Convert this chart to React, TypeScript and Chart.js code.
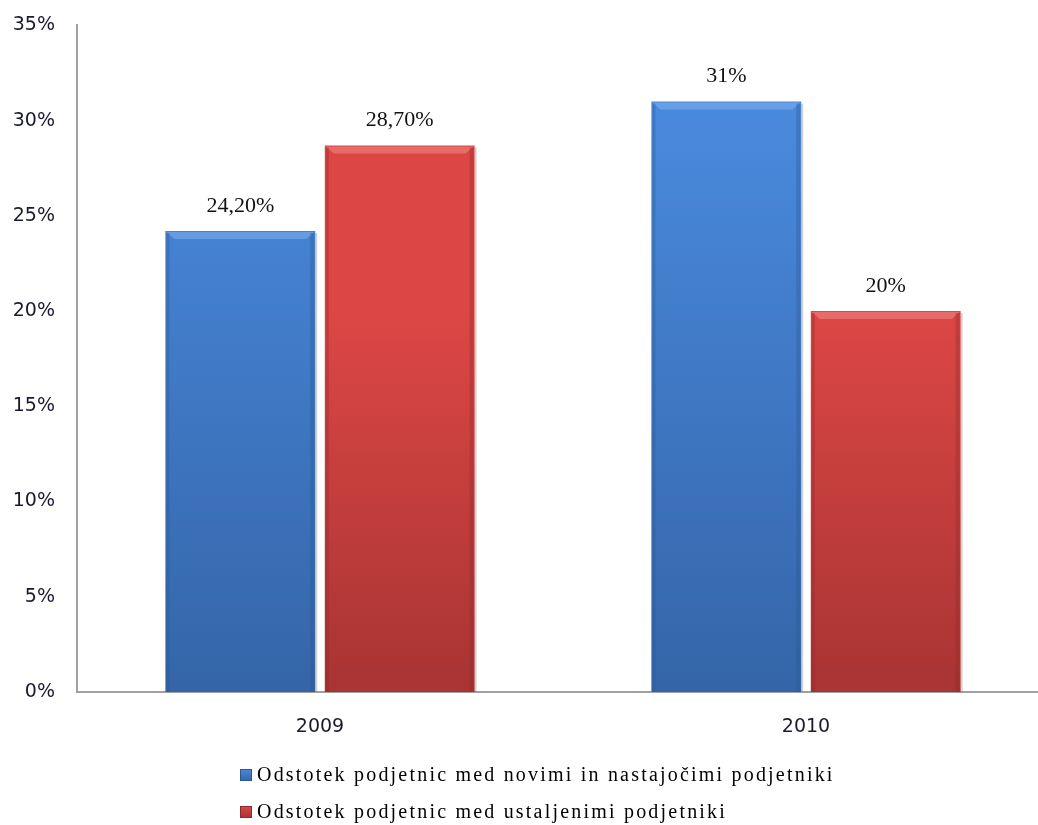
import React, { useEffect, useRef } from "react";
import { Chart, registerables } from "chart.js";

Chart.register(...registerables);

const categories = ["2009", "2010"];
const seriesNames = [
  "Odstotek podjetnic med novimi in nastajočimi podjetniki",
  "Odstotek podjetnic med ustaljenimi podjetniki",
];
const newEntrepreneurs = [24.2, 31];
const establishedEntrepreneurs = [28.7, 20];
const newLabels = ["24,20%", "31%"];
const establishedLabels = ["28,70%", "20%"];
const yTicks = [0, 5, 10, 15, 20, 25, 30, 35];

const palettes = [
  { top: "#4a8ade", bottom: "#3465a8", edge: "#2c5890", light: "#7fb0ee" },
  { top: "#dc4745", bottom: "#a83433", edge: "#8f2a2a", light: "#f08a86" },
];

const gradientPlugin = {
  id: "barGradient",
  beforeDatasetsDraw(chart: any) {
    const ctx = chart.ctx;
    chart.data.datasets.forEach((ds: any, di: number) => {
      const meta = chart.getDatasetMeta(di);
      const p = palettes[di];
      meta.data.forEach((el: any) => {
        const g = ctx.createLinearGradient(0, el.y, 0, el.base);
        g.addColorStop(0, p.top);
        g.addColorStop(1, p.bottom);
        el.options.backgroundColor = g;
        // soft grey shadow on the right side
        ctx.save();
        ctx.fillStyle = "rgba(120,120,120,0.35)";
        ctx.fillRect(el.x + el.width / 2, el.y + 2, 2, el.base - el.y - 2);
        ctx.restore();
      });
    });
  },
  afterDatasetsDraw(chart: any) {
    const ctx = chart.ctx;
    chart.data.datasets.forEach((ds: any, di: number) => {
      const meta = chart.getDatasetMeta(di);
      const p = palettes[di];
      const labels = di === 0 ? newLabels : establishedLabels;
      meta.data.forEach((el: any, i: number) => {
        const left = el.x - el.width / 2;
        const right = el.x + el.width / 2;
        const top = el.y;
        ctx.save();
        ctx.fillStyle = p.light;
        ctx.globalAlpha = 0.55;
        ctx.beginPath();
        ctx.moveTo(left + 1, top + 1);
        ctx.lineTo(right - 1, top + 1);
        ctx.lineTo(right - 9, top + 8);
        ctx.lineTo(left + 9, top + 8);
        ctx.closePath();
        ctx.fill();
        ctx.globalAlpha = 0.35;
        ctx.fillStyle = p.edge;
        ctx.fillRect(right - 5, top + 2, 4, el.base - top - 2);
        ctx.fillRect(left + 1, top + 2, 3, el.base - top - 2);
        ctx.restore();
        ctx.save();
        ctx.font = "22px 'Liberation Serif'";
        ctx.fillStyle = "#111";
        ctx.textAlign = "center";
        ctx.textBaseline = "middle";
        ctx.fillText(labels[i], el.x, top - 25);
        ctx.restore();
      });
    });
  },
  afterDraw(chart: any) {
    const ctx = chart.ctx;
    const x0 = 240;
    const ys = [775, 812];
    chart.data.datasets.forEach((ds: any, di: number) => {
      const p = palettes[di];
      const y = ys[di];
      ctx.save();
      const g = ctx.createLinearGradient(0, y - 6, 0, y + 6);
      g.addColorStop(0, p.top);
      g.addColorStop(1, p.bottom);
      ctx.fillStyle = g;
      ctx.fillRect(x0, y - 6, 12, 12);
      ctx.strokeStyle = p.edge;
      ctx.lineWidth = 1;
      ctx.strokeRect(x0 + 0.5, y - 5.5, 11, 11);
      ctx.font = "20px 'Liberation Serif'";
      ctx.fillStyle = "#000";
      ctx.textBaseline = "middle";
      ctx.textAlign = "left";
      (ctx as any).letterSpacing = "2.2px";
      ctx.fillText(ds.label, x0 + 17, y + 1);
      ctx.restore();
    });
  },
};

export default function App() {
  const ref = useRef<HTMLCanvasElement>(null);
  useEffect(() => {
    document.body.style.margin = "0";
    const chart = new Chart(ref.current!, {
      type: "bar",
      data: {
        labels: categories,
        datasets: [
          {
            label: seriesNames[0],
            data: newEntrepreneurs,
            backgroundColor: palettes[0].top,
            borderWidth: 0,
            categoryPercentage: 0.656,
            barPercentage: 0.94,
          },
          {
            label: seriesNames[1],
            data: establishedEntrepreneurs,
            backgroundColor: palettes[1].top,
            borderWidth: 0,
            categoryPercentage: 0.656,
            barPercentage: 0.94,
          },
        ],
      },
      options: {
        animation: false,
        responsive: false,
        layout: { padding: { top: 24, right: 0, left: 0, bottom: 0 } },
        plugins: { legend: { display: false }, tooltip: { enabled: false } },
        scales: {
          x: {
            grid: { display: false },
            border: { display: true, color: "#a0a0a0", width: 2 },
            ticks: {
              font: { family: "'DejaVu Sans'", size: 19 },
              color: "#1a1a2e",
              padding: 16,
            },
            afterFit(scale: any) {
              scale.height = 133;
            },
          },
          y: {
            min: 0,
            max: 35,
            afterBuildTicks(scale: any) {
              scale.ticks = yTicks.map((v) => ({ value: v }));
            },
            grid: { display: false },
            border: { display: true, color: "#a0a0a0", width: 2 },
            ticks: {
              font: { family: "'DejaVu Sans'", size: 19 },
              color: "#1a1a2e",
              padding: 14,
              callback: (v: any) => v + "%",
            },
            afterFit(scale: any) {
              scale.width = 77;
            },
          },
        },
      },
      plugins: [gradientPlugin],
    });
    return () => chart.destroy();
  }, []);
  return (
    <div style={{ position: "absolute", left: 0, top: 0, width: 1038, height: 825, overflow: "hidden" }}>
      <canvas ref={ref} width={1049} height={825} style={{ display: "block" }} />
    </div>
  );
}
